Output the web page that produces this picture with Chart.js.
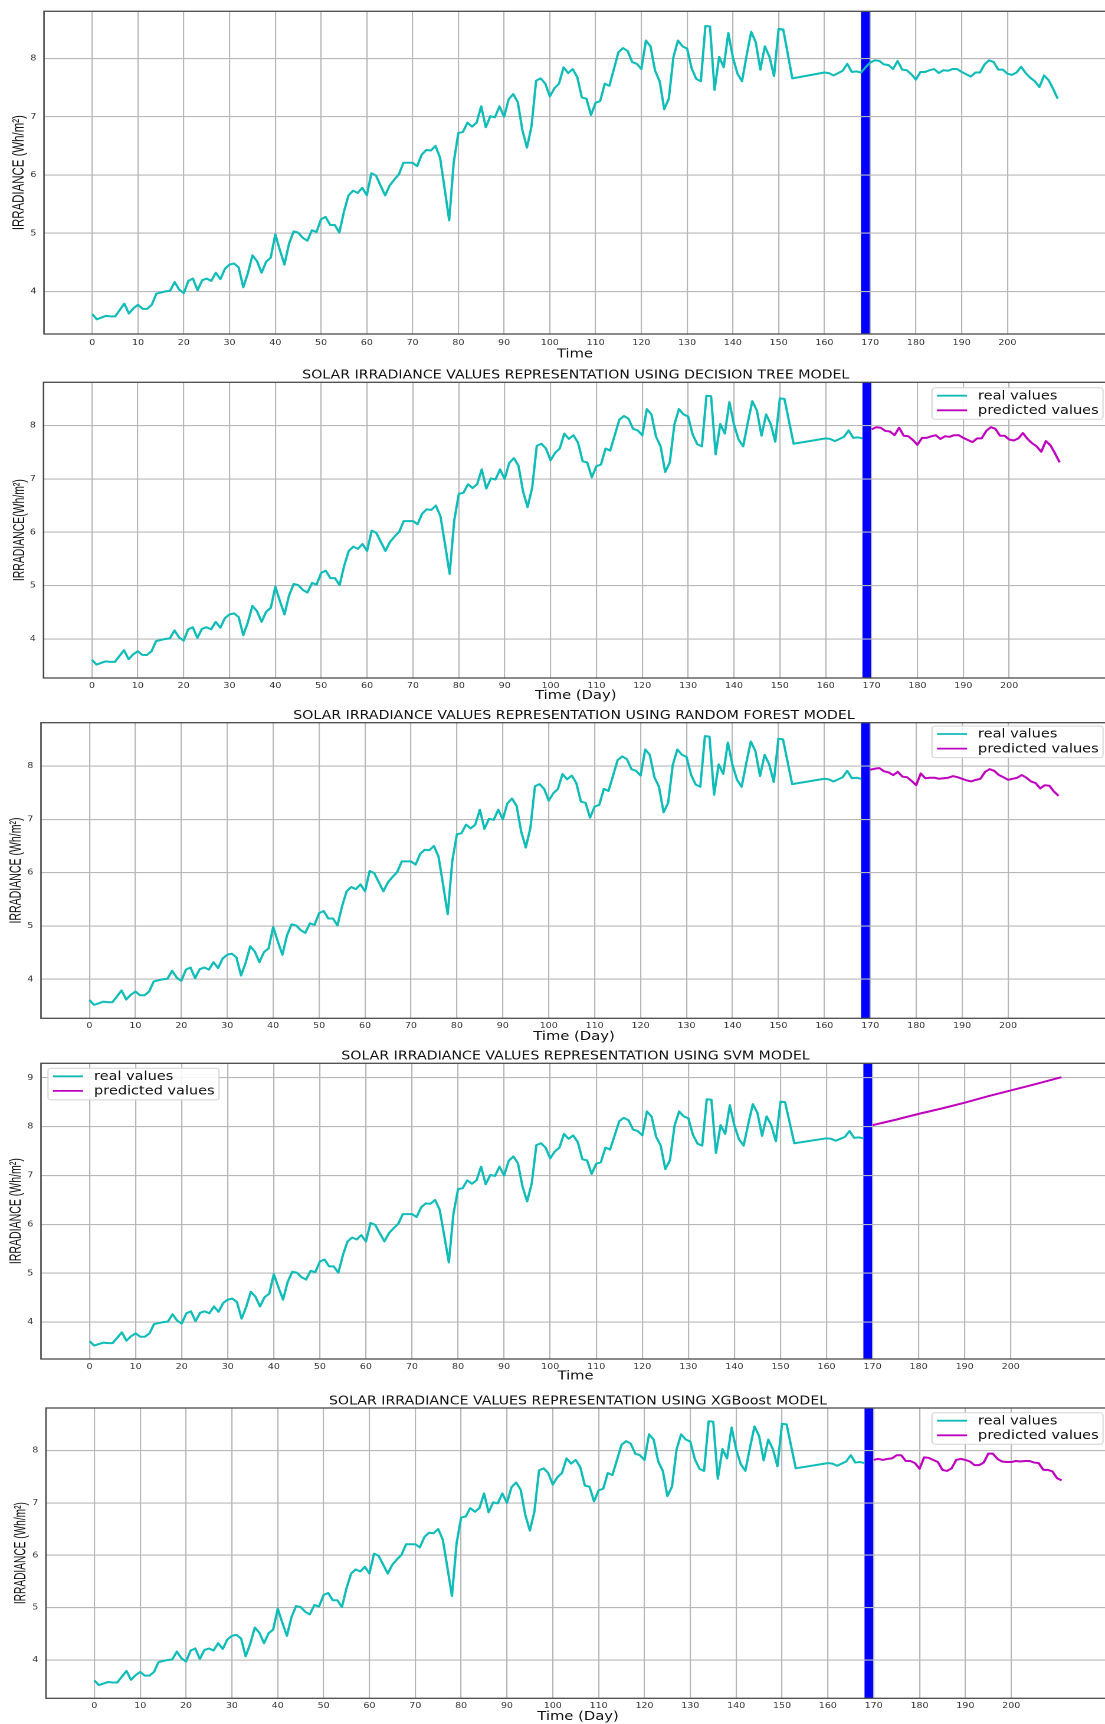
<!DOCTYPE html>
<html>
<head>
<meta charset="utf-8">
<script src="https://cdn.jsdelivr.net/npm/chart.js@4.4.1/dist/chart.umd.min.js"></script>
<style>
  html, body { margin: 0; padding: 0; background: #fff; width: 1105px; height: 1724px; overflow: hidden; position: relative; }
</style>
</head>
<body>
<script>
// the original figure was stretched sideways, so every canvas is drawn narrow and widened by css
const SX = 1115 / 945
const LW = 945

function span(a, b) {
  const out = []
  for (let d = a; d <= b; d++) out.push(d)
  return out
}

// real irradiance, days 0-151, 153, 160-211 (no points in between)
const realDays = span(0, 151).concat([153], span(160, 211))
const realValues = [
  3.61, 3.52, 3.55, 3.58, 3.57, 3.57, 3.68, 3.79, 3.62, 3.71,
  3.77, 3.70, 3.70, 3.77, 3.96, 3.98, 4.00, 4.01, 4.16, 4.03,
  3.97, 4.18, 4.22, 4.02, 4.19, 4.22, 4.18, 4.32, 4.21, 4.39,
  4.46, 4.48, 4.41, 4.07, 4.31, 4.62, 4.52, 4.32, 4.51, 4.58,
  4.98, 4.71, 4.46, 4.82, 5.03, 5.01, 4.92, 4.87, 5.05, 5.02,
  5.24, 5.28, 5.14, 5.14, 5.01, 5.37, 5.65, 5.73, 5.69, 5.78,
  5.65, 6.03, 5.99, 5.82, 5.65, 5.82, 5.92, 6.01, 6.21, 6.21,
  6.21, 6.15, 6.35, 6.43, 6.42, 6.50, 6.30, 5.77, 5.22, 6.22,
  6.72, 6.74, 6.90, 6.83, 6.90, 7.18, 6.82, 7.01, 6.99, 7.18,
  7.00, 7.30, 7.39, 7.25, 6.77, 6.47, 6.84, 7.62, 7.66, 7.57,
  7.35, 7.49, 7.57, 7.85, 7.75, 7.82, 7.68, 7.33, 7.31, 7.03,
  7.24, 7.27, 7.57, 7.53, 7.82, 8.11, 8.18, 8.13, 7.94, 7.91,
  7.82, 8.31, 8.21, 7.79, 7.61, 7.13, 7.31, 8.02, 8.31, 8.21,
  8.17, 7.83, 7.65, 7.61, 8.56, 8.55, 7.46, 8.03, 7.85, 8.44,
  8.02, 7.74, 7.61, 8.05, 8.46, 8.28, 7.81, 8.21, 8.03, 7.70,
  8.51, 8.50,
  7.66,
  7.76, 7.75, 7.71, 7.75, 7.79, 7.91, 7.77, 7.78, 7.76, 7.85,
  7.93, 7.97, 7.96, 7.90, 7.89, 7.82, 7.96, 7.81, 7.80, 7.73,
  7.64, 7.77, 7.77, 7.80, 7.82, 7.75, 7.80, 7.79, 7.82, 7.82,
  7.77, 7.73, 7.69, 7.76, 7.76, 7.90, 7.97, 7.94, 7.81, 7.81,
  7.74, 7.72, 7.76, 7.86, 7.75, 7.67, 7.61, 7.51, 7.71, 7.63,
  7.48, 7.31
]

// predictions, days 170-211
const predDays = span(170, 211)
const treePred = [
  7.93, 7.97, 7.96, 7.90, 7.89, 7.82, 7.96, 7.81, 7.80, 7.73,
  7.64, 7.77, 7.77, 7.80, 7.82, 7.75, 7.80, 7.79, 7.82, 7.82,
  7.77, 7.73, 7.69, 7.76, 7.76, 7.90, 7.97, 7.94, 7.81, 7.81,
  7.74, 7.72, 7.76, 7.86, 7.75, 7.67, 7.61, 7.51, 7.71, 7.63,
  7.48, 7.31
]
const forestPred = [
  7.93, 7.95, 7.96, 7.90, 7.88, 7.83, 7.89, 7.80, 7.79, 7.72,
  7.64, 7.86, 7.77, 7.78, 7.78, 7.76, 7.77, 7.78, 7.81, 7.79,
  7.76, 7.73, 7.71, 7.74, 7.76, 7.89, 7.94, 7.91, 7.83, 7.79,
  7.74, 7.76, 7.78, 7.83, 7.78, 7.71, 7.68, 7.58, 7.64, 7.63,
  7.52, 7.44
]
const xgbPred = [
  7.82, 7.84, 7.82, 7.84, 7.85, 7.91, 7.91, 7.80, 7.80, 7.76,
  7.65, 7.87, 7.86, 7.82, 7.78, 7.63, 7.61, 7.66, 7.82, 7.84,
  7.82, 7.79, 7.72, 7.72, 7.77, 7.94, 7.94, 7.84, 7.79, 7.78,
  7.78, 7.80, 7.79, 7.80, 7.80, 7.77, 7.76, 7.63, 7.63, 7.60,
  7.47, 7.43
]
const svmDays = [170, 175, 180, 185, 190, 195, 200, 205, 211]
const svmPred = [8.03, 8.14, 8.26, 8.37, 8.49, 8.62, 8.74, 8.86, 9.01]

const xTicks = [0, 10, 20, 30, 40, 50, 60, 70, 80, 90, 100, 110, 120, 130, 140, 150, 160, 170, 180, 190, 200]
const yTicks = [4, 5, 6, 7, 8]
const yTicksSvm = [4, 5, 6, 7, 8, 9]
const xMin = -10.55, xMax = 221.55
const yMin = 3.268, yMax = 8.812
const yMinSvm = 3.245, yMaxSvm = 9.295
const spanStart = 168, spanEnd = 170
const splitDay = 168

const titles = [
  null,
  "SOLAR IRRADIANCE VALUES REPRESENTATION USING DECISION TREE MODEL",
  "SOLAR IRRADIANCE VALUES REPRESENTATION USING RANDOM FOREST MODEL",
  "SOLAR IRRADIANCE VALUES REPRESENTATION USING SVM MODEL",
  "SOLAR IRRADIANCE VALUES REPRESENTATION USING XGBoost MODEL",
]

const CYAN = "#10bcb8"
const MAGENTA = "#bf00bf"
const FONT = "'DejaVu Sans', sans-serif"

function pairs(days, values) {
  return days.map((d, i) => ({ x: d, y: values[i] }))
}

const mpl = {
  id: "mpl",
  beforeDraw(chart) {
    const { ctx, chartArea: a, scales } = chart
    const x0 = scales.x.getPixelForValue(spanStart)
    const x1 = scales.x.getPixelForValue(spanEnd)
    ctx.save()
    ctx.fillStyle = "#0000ff"
    ctx.fillRect(x0, a.top, x1 - x0, a.bottom - a.top)
    ctx.restore()
  },
  afterDraw(chart, args, opts) {
    const { ctx, chartArea: a } = chart
    ctx.save()
    ctx.strokeStyle = "#4a4a4a"
    ctx.lineWidth = 1.3
    ctx.strokeRect(a.left, a.top, a.right - a.left, a.bottom - a.top)

    if (opts.title) {
      ctx.fillStyle = "#111"
      ctx.font = "12px " + FONT
      ctx.textAlign = "center"
      ctx.textBaseline = "alphabetic"
      ctx.fillText(opts.title, (a.left + a.right) / 2, a.top - 3.6)
    }

    // y label: rotated, squeezed to the length it has in the picture
    if (opts.ylabel) {
      ctx.save()
      ctx.translate(opts.ylabelX / SX, (a.top + a.bottom) / 2)
      ctx.rotate(-Math.PI / 2)
      ctx.font = "13.5px 'Liberation Sans', Arial, sans-serif"
      const w = ctx.measureText(opts.ylabel).width
      ctx.scale(opts.ylabelLen / w, 1)
      ctx.fillStyle = "#111"
      ctx.textAlign = "center"
      ctx.textBaseline = "middle"
      ctx.fillText(opts.ylabel, 0, 0)
      ctx.restore()
    }

    const lg = opts.legend
    if (lg) {
      const w = 171 / SX, h = 31.6
      const bx = lg.side === "left" ? a.left + 7 / SX : 1103 / SX - w
      const by = a.top + lg.gap
      ctx.beginPath()
      ctx.roundRect(bx, by, w, h, 2.5)
      ctx.fillStyle = "rgba(255,255,255,0.85)"
      ctx.fill()
      ctx.strokeStyle = "#d3d3d3"
      ctx.lineWidth = 1
      ctx.stroke()
      ctx.font = "12.3px " + FONT
      ctx.textAlign = "left"
      ctx.textBaseline = "middle"
      chart.data.datasets.forEach((ds, i) => {
        const cy = by + 8 + i * 14.6
        ctx.beginPath()
        ctx.moveTo(bx + 5 / SX, cy)
        ctx.lineTo(bx + 35 / SX, cy)
        ctx.strokeStyle = ds.borderColor
        ctx.lineWidth = 1.8
        ctx.stroke()
        ctx.fillStyle = "#111"
        ctx.fillText(ds.label, bx + 46 / SX, cy + 0.5)
      })
    }
    ctx.restore()
  },
}

// layout of each panel in page pixels
const panels = [
  { top: 0, height: 362, plotTop: 11, plotBottom: 334, left: 44, right: 1106, tickOff: 8.7, xlabelOff: 20,
    ylabelX: 19, ylabelLen: 115, xlabel: "Time", ylabel: "IRRADIANCE (Wh/m²)", pred: null, legend: null },
  { top: 362, height: 342, plotTop: 382.3, plotBottom: 678, left: 43.5, right: 1108, tickOff: 8, xlabelOff: 17.5,
    ylabelX: 20, ylabelLen: 102, xlabel: "Time (Day)", ylabel: "IRRADIANCE(Wh/m²)", pred: pairs(predDays, treePred), legend: { side: "right", gap: 5.4 } },
  { top: 704, height: 342, plotTop: 722.7, plotBottom: 1018.3, left: 41, right: 1107, tickOff: 7.7, xlabelOff: 18.5,
    ylabelX: 16, ylabelLen: 106, xlabel: "Time (Day)", ylabel: "IRRADIANCE (Wh/m²)", pred: pairs(predDays, forestPred), legend: { side: "right", gap: 3.3 } },
  { top: 1046, height: 340, plotTop: 1063.3, plotBottom: 1359, left: 41, right: 1110, tickOff: 7.7, xlabelOff: 17,
    ylabelX: 16, ylabelLen: 106, xlabel: "Time", ylabel: "IRRADIANCE (Wh/m²)", pred: pairs(svmDays, svmPred), legend: { side: "left", gap: 5 }, svm: true },
  { top: 1386, height: 338, plotTop: 1408, plotBottom: 1698.3, left: 46, right: 1110, tickOff: 7.7, xlabelOff: 18.4,
    ylabelX: 21, ylabelLen: 102, xlabel: "Time (Day)", ylabel: "IRRADIANCE (Wh/m²)", pred: pairs(predDays, xgbPred), legend: { side: "right", gap: 4.7 } },
]

function makePanel(p, idx) {
  const canvas = document.createElement("canvas")
  canvas.width = LW
  canvas.height = p.height
  canvas.style.cssText = `position:absolute;left:0;top:${p.top}px;width:${LW * SX}px;height:${p.height}px`
  document.body.appendChild(canvas)

  const real = p.pred
    ? pairs(realDays, realValues).filter((pt) => pt.x <= splitDay)
    : pairs(realDays, realValues)
  const datasets = [
    { label: "real values", data: real, borderColor: CYAN, borderWidth: 2, pointRadius: 0, tension: 0, borderJoinStyle: "round" },
  ]
  if (p.pred) {
    datasets.push({ label: "predicted values", data: p.pred, borderColor: MAGENTA, borderWidth: 2, pointRadius: 0, tension: 0, borderJoinStyle: "round" })
  }

  const gridStyle = { color: "#b8b8b8", lineWidth: 1.1, drawTicks: false }
  const yt = p.svm ? yTicksSvm : yTicks

  return new Chart(canvas, {
    type: "line",
    data: { datasets },
    options: {
      responsive: false,
      animation: false,
      devicePixelRatio: 2,
      layout: { padding: { top: p.plotTop - p.top, right: LW - p.right / SX, left: 0, bottom: 0 } },
      plugins: {
        legend: { display: false },
        tooltip: { enabled: false },
        mpl: { title: titles[idx], legend: p.legend, ylabel: p.ylabel, ylabelX: p.ylabelX, ylabelLen: p.ylabelLen },
      },
      scales: {
        x: {
          type: "linear",
          min: xMin,
          max: xMax,
          afterBuildTicks: (ax) => { ax.ticks = xTicks.map((v) => ({ value: v })) },
          afterFit: (s) => { s.height = p.top + p.height - p.plotBottom },
          grid: gridStyle,
          border: { display: false },
          ticks: { autoSkip: false, maxRotation: 0, padding: p.tickOff - 4.8, color: "#333", font: { family: FONT, size: 8 } },
          title: {
            display: true,
            text: p.xlabel,
            color: "#111",
            font: { family: FONT, size: 12.5 },
            padding: { top: 0, bottom: p.top + p.height - (p.plotBottom + p.xlabelOff) - 7.5 },
          },
        },
        y: {
          type: "linear",
          min: p.svm ? yMinSvm : yMin,
          max: p.svm ? yMaxSvm : yMax,
          afterBuildTicks: (ax) => { ax.ticks = yt.map((v) => ({ value: v })) },
          afterFit: (s) => { s.width = p.left / SX },
          grid: gridStyle,
          border: { display: false },
          ticks: { padding: 6.5, color: "#333", font: { family: FONT, size: 8 } },
        },
      },
    },
    plugins: [mpl],
  })
}

panels.forEach(makePanel)
</script>
</body>
</html>
